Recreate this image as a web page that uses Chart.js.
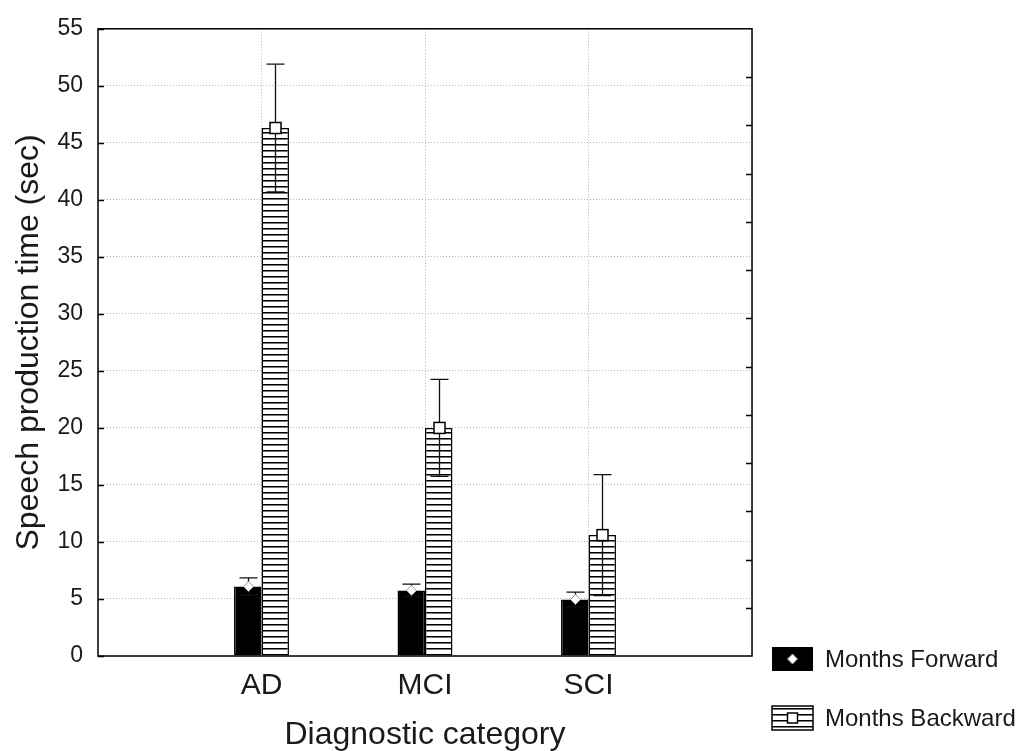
<!DOCTYPE html>
<html>
<head>
<meta charset="utf-8">
<script src="https://cdn.jsdelivr.net/npm/chart.js@4/dist/chart.umd.min.js"></script>
<style>
  html, body { margin: 0; padding: 0; background: #fff; }
  #wrap { width: 1022px; height: 751px; }
</style>
</head>
<body>
<div id="wrap"><canvas id="myChart" width="1022" height="751"></canvas></div>
<script>
const categories = ["AD", "MCI", "SCI"];
const seriesNames = ["Months Forward", "Months Backward"];
const forwardMean = [6.1, 5.75, 4.95];
const forwardErr = [0.75, 0.55, 0.65];
const backwardMean = [46.3, 20.0, 10.6];
const backwardErr = [5.6, 4.25, 5.3];
const yMin = 0, yMax = 55, yStep = 5;

const FONT = 'Arial, "Liberation Sans", sans-serif';
const TEXT = "#1a1a1a";

function hatchPattern(ctx, gap) {
  const c = document.createElement("canvas");
  c.width = 8;
  c.height = gap;
  const g = c.getContext("2d");
  g.fillStyle = "#fff";
  g.fillRect(0, 0, 8, gap);
  g.fillStyle = "#000";
  g.fillRect(0, 0, 8, 1);
  g.fillStyle = "#777";
  g.fillRect(0, 1, 8, 1);
  return ctx.createPattern(c, "repeat");
}

const canvas = document.getElementById("myChart");
const ctx = canvas.getContext("2d");
const hatch = hatchPattern(ctx, 6);

function diamond(c, x, y, r) {
  c.beginPath();
  c.moveTo(x, y - r);
  c.lineTo(x + r, y);
  c.lineTo(x, y + r);
  c.lineTo(x - r, y);
  c.closePath();
  c.fillStyle = "#fff";
  c.fill();
  c.lineWidth = 1;
  c.strokeStyle = "#999";
  c.stroke();
}

function square(c, x, y, s) {
  c.fillStyle = "#fff";
  c.fillRect(x - s / 2, y - s / 2, s, s);
  c.lineWidth = 1.5;
  c.strokeStyle = "#000";
  c.strokeRect(x - s / 2, y - s / 2, s, s);
}

const extras = {
  id: "extras",
  afterDatasetsDraw(chart) {
    const c = chart.ctx;
    const y = chart.scales.y;
    const y2 = chart.scales.y2;
    const area = chart.chartArea;
    const means = [forwardMean, backwardMean];
    const errs = [forwardErr, backwardErr];

    // error bars and markers
    c.save();
    [0, 1].forEach(d => {
      chart.getDatasetMeta(d).data.forEach((bar, i) => {
        const x = Math.round(bar.x) + 0.5;
        const hi = y.getPixelForValue(means[d][i] + errs[d][i]);
        const lo = y.getPixelForValue(means[d][i] - errs[d][i]);
        c.strokeStyle = "#111";
        c.lineWidth = 1.3;
        c.beginPath();
        c.moveTo(x, lo);
        c.lineTo(x, hi);
        c.moveTo(x - 9, hi);
        c.lineTo(x + 9, hi);
        c.moveTo(x - 9, lo);
        c.lineTo(x + 9, lo);
        c.stroke();
        const my = y.getPixelForValue(means[d][i]);
        if (d === 0) diamond(c, x, my, 5);
        else square(c, x, my, 11);
      });
    });

    // frame
    c.strokeStyle = "#000";
    c.lineWidth = 1.5;
    c.strokeRect(area.left, area.top, area.right - area.left, area.bottom - area.top);

    // inward ticks on left axis
    c.lineWidth = 1.5;
    c.beginPath();
    y.ticks.forEach(t => {
      const py = Math.round(y.getPixelForValue(t.value)) + 0.5;
      c.moveTo(area.left, py);
      c.lineTo(area.left + 6, py);
    });
    // inward ticks on right axis
    for (let k = y2.min + 1; k < y2.max; k++) {
      const py = Math.round(y2.getPixelForValue(k)) + 0.5;
      c.moveTo(area.right, py);
      c.lineTo(area.right - 6, py);
    }
    c.stroke();

    // legend
    const lx = area.right + 20;
    const boxW = 41, boxH = 24;
    const rows = [area.bottom - 9, area.bottom + 50];
    c.font = "24px " + FONT;
    c.textBaseline = "middle";
    c.textAlign = "left";
    rows.forEach((ty, k) => {
      if (k === 0) {
        c.fillStyle = "#000";
        c.fillRect(lx, ty, boxW, boxH);
        diamond(c, lx + boxW / 2, ty + boxH / 2, 5);
      } else {
        c.fillStyle = hatch;
        c.fillRect(lx, ty, boxW, boxH);
        c.lineWidth = 1.5;
        c.strokeStyle = "#000";
        c.strokeRect(lx, ty, boxW, boxH);
        square(c, lx + boxW / 2, ty + boxH / 2, 10);
      }
      c.fillStyle = TEXT;
      c.fillText(seriesNames[k], lx + boxW + 12, ty + boxH / 2 + 1);
    });
    c.restore();
  }
};

const data = {
  datasets: [
    {
      label: seriesNames[0],
      data: categories.map((cat, i) => ({ x: i + 1, y: forwardMean[i] })),
      backgroundColor: "#000",
      borderColor: "#000",
      borderWidth: 1.5,
      borderSkipped: false,
    },
    {
      label: seriesNames[1],
      data: categories.map((cat, i) => ({ x: i + 1, y: backwardMean[i] })),
      backgroundColor: hatch,
      borderColor: "#000",
      borderWidth: 1.5,
      borderSkipped: false,
    },
  ],
};

const config = {
  type: "bar",
  data: data,
  options: {
    responsive: false,
    animation: false,
    categoryPercentage: 0.336,
    barPercentage: 1.0,
    layout: { padding: { left: 0, top: 26, right: 270, bottom: 0 } },
    plugins: {
      legend: { display: false },
      tooltip: { enabled: false },
    },
    scales: {
      x: {
        type: "linear",
        min: 0,
        max: categories.length + 1,
        offset: false,
        afterFit: s => { s.height = 95; },
        ticks: {
          stepSize: 1,
          padding: 12,
          color: TEXT,
          font: { family: FONT, size: 30 },
          callback: v => categories[v - 1] || "",
        },
        grid: { color: "#b5b5b5", lineWidth: 1, drawTicks: false, offset: false },
        border: { display: false, dash: [1, 2] },
        title: {
          display: true,
          text: "Diagnostic category",
          color: TEXT,
          font: { family: FONT, size: 32, lineHeight: 1 },
          padding: { top: 0, bottom: 0 },
        },
      },
      y: {
        min: yMin,
        max: yMax,
        afterFit: s => { s.width = 98; },
        ticks: {
          stepSize: yStep,
          padding: 15,
          color: TEXT,
          font: { family: FONT, size: 23 },
        },
        grid: { color: "#b5b5b5", lineWidth: 1, drawTicks: false },
        border: { display: false, dash: [1, 2] },
        title: {
          display: true,
          text: "Speech production time (sec)",
          color: TEXT,
          font: { family: FONT, size: 32, lineHeight: 1.2 },
          padding: { top: 10, bottom: 0 },
        },
      },
      y2: {
        type: "linear",
        position: "right",
        min: 0,
        max: 13,
        display: false,
      },
    },
  },
  plugins: [extras],
};

const myChart = new Chart(ctx, config);
</script>
</body>
</html>
